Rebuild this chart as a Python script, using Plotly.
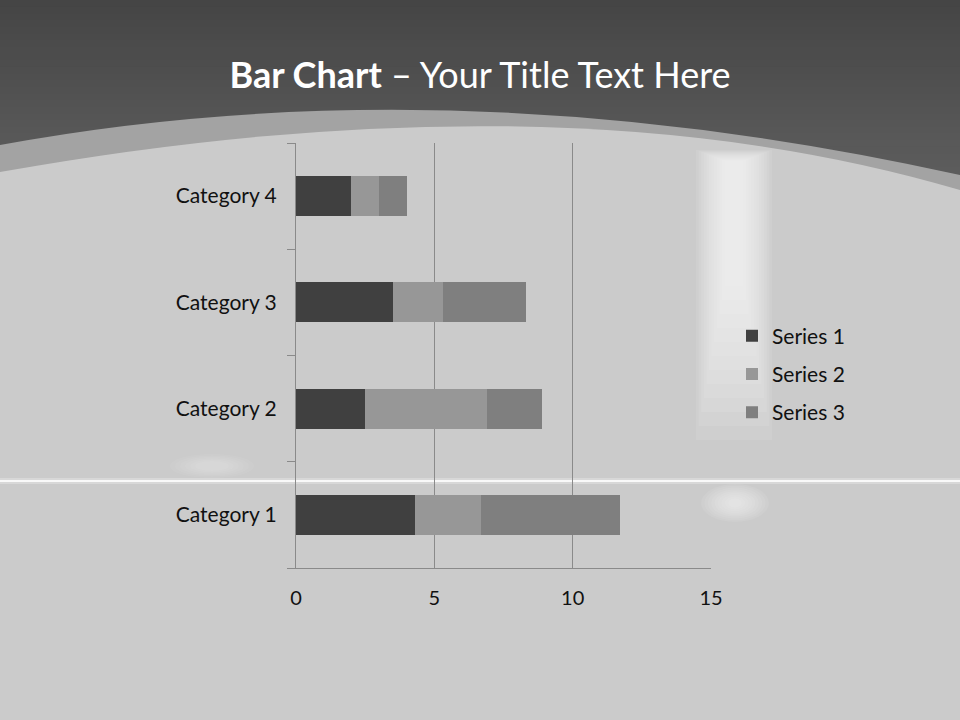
import plotly.graph_objects as go

categories = ["Category 1", "Category 2", "Category 3", "Category 4"]
series_names = ["Series 1", "Series 2", "Series 3"]
series1 = [4.3, 2.5, 3.5, 2.0]
series2 = [2.4, 4.4, 1.8, 1.0]
series3 = [5.0, 2.0, 3.0, 1.0]
x_ticks = [0, 5, 10, 15]
colors = ["#404040", "#979797", "#7f7f7f"]

W, H = 960, 720
L, R, T, B = 296, 711, 143, 568  # plot area in pixels


def px(X):
    return (X - L) / (R - L)


def py(Y):
    return (B - Y) / (B - T)


def P(X, Y):
    return f"{px(X):.5f},{py(Y):.5f}"


fig = go.Figure()
for name, vals, c in zip(series_names, [series1, series2, series3], colors):
    fig.add_trace(go.Bar(
        y=categories, x=vals, name=name, orientation="h",
        marker=dict(color=c, line=dict(width=0)), width=0.375,
        legendgroup=name,
    ))

shapes = []


def rect(x0, x1, y0, y1, col):
    shapes.append(dict(type="rect", xref="paper", yref="paper", layer="below",
                       x0=px(x0), x1=px(x1), y0=py(y0), y1=py(y1),
                       fillcolor=col, line=dict(width=0)))


def circ(x0, x1, y0, y1, col):
    shapes.append(dict(type="circle", xref="paper", yref="paper", layer="below",
                       x0=px(x0), x1=px(x1), y0=py(y0), y1=py(y1),
                       fillcolor=col, line=dict(width=0)))


# dark gradient top
n = 30
top_c, bot_c = 0x45, 0x60
for i in range(n):
    y0 = i * 200 / n
    y1 = (i + 1) * 200 / n
    v = int(round(top_c + (bot_c - top_c) * i / (n - 1)))
    rect(0, W, y0, y1 + 1, f"rgb({v},{v},{v})")
# band
shapes.append(dict(type="path", xref="paper", yref="paper", layer="below",
                   path=f"M {P(0,145)} Q {P(450,62)} {P(960,175)} L {P(960,720)} L {P(0,720)} Z",
                   fillcolor="#a3a3a3", line=dict(width=0)))
# light area
shapes.append(dict(type="path", xref="paper", yref="paper", layer="below",
                   path=f"M {P(0,172)} Q {P(560,72)} {P(960,190)} L {P(960,720)} L {P(0,720)} Z",
                   fillcolor="#cbcbcb", line=dict(width=0)))
# soft vertical streak (brushed highlight)
for i in range(12):
    hw = 38 - 2.6 * i
    cx = 734
    rect(cx - hw, cx + hw, 150 + 1 * i, 440 - 14 * i, "rgba(255,255,255,0.09)")
# glow near category 1
for i in range(9):
    rx = 34 - 3.4 * i
    ry = 19 - 1.8 * i
    circ(735 - rx, 735 + rx, 503 - ry, 503 + ry, "rgba(255,255,255,0.08)")
# faint glow left
for i in range(6):
    rx = 42 - 5 * i
    ry = 12 - 1.4 * i
    circ(212 - rx, 212 + rx, 466 - ry, 466 + ry, "rgba(255,255,255,0.05)")
# horizontal bright line
shapes.append(dict(type="line", xref="paper", yref="paper", layer="below",
                   x0=px(0), x1=px(W), y0=py(481), y1=py(481),
                   line=dict(color="rgba(255,255,255,0.25)", width=6)))
shapes.append(dict(type="line", xref="paper", yref="paper", layer="below",
                   x0=px(0), x1=px(W), y0=py(481), y1=py(481),
                   line=dict(color="rgba(255,255,255,0.85)", width=2)))

FONT = "Lato, 'Open Sans', sans-serif"
fig.update_layout(
    width=W, height=H,
    margin=dict(l=L, r=W - R, t=T, b=H - B, pad=0),
    paper_bgcolor="#cbcbcb",
    plot_bgcolor="rgba(0,0,0,0)",
    barmode="stack",
    shapes=shapes,
    font=dict(family=FONT, color="#111111", size=21),
    title=dict(text="<b>Bar Chart</b> – Your Title Text Here",
               x=0.5, xanchor="center", y=1 - 75 / H, yanchor="middle",
               font=dict(size=36, color="#ffffff", family=FONT)),
    xaxis=dict(range=[0, 15], tickvals=x_ticks, showgrid=True, gridcolor="#8a8a8a",
               gridwidth=1, zeroline=False, showline=True, linecolor="#8a8a8a",
               ticks="", ticklabelstandoff=12, tickfont=dict(size=20), fixedrange=True),
    yaxis=dict(type="category", categoryorder="array", categoryarray=categories,
               range=[-0.5, 3.5], showline=True, linecolor="#8a8a8a",
               ticks="outside", tickson="boundaries", ticklen=8, tickcolor="#8a8a8a",
               showgrid=False, ticklabelstandoff=14, tickfont=dict(size=21),
               fixedrange=True),
    legend=dict(x=px(732), xanchor="left", y=py(374), yanchor="middle",
                bgcolor="rgba(0,0,0,0)", traceorder="grouped", tracegroupgap=8,
                font=dict(size=21), itemwidth=30),
    showlegend=True,
)

fig.write_html("out.html", config={"displayModeBar": False},
               post_script="document.body.style.margin='0';document.body.style.overflow='hidden';")
